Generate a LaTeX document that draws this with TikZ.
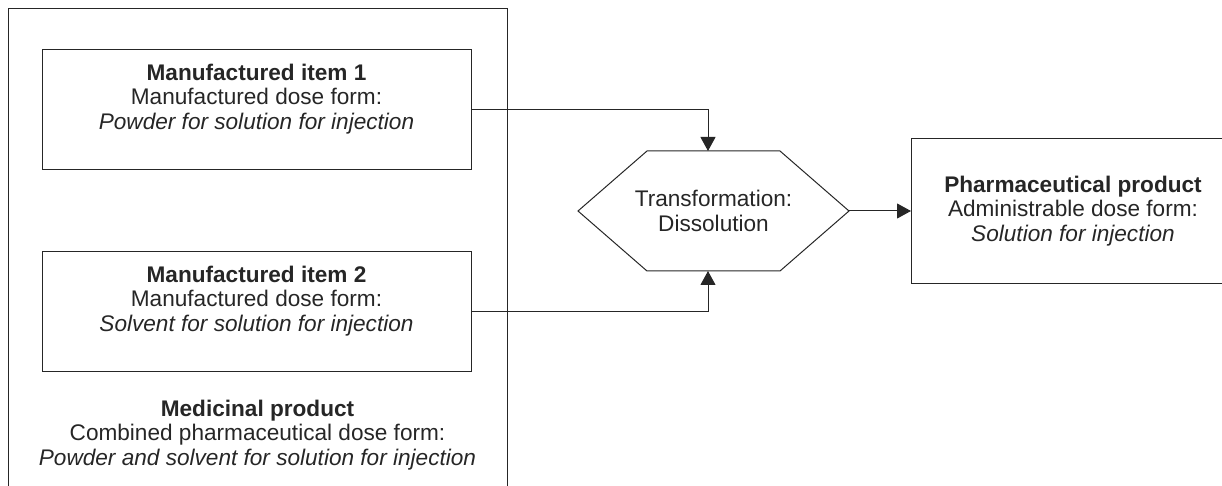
\documentclass[tikz,border=0pt]{standalone}
\usepackage{fontspec}
\setmainfont{Liberation Sans}
\usetikzlibrary{arrows.meta,positioning}

\begin{document}
\begin{tikzpicture}[
    node distance=41pt,
    color=black!85,
    line width=0.5pt,
    >={Triangle[length=7pt,width=7.5pt]},
    every node/.style={font=\fontsize{11.3}{12.2}\selectfont, align=center},
    frame node/.style={rectangle,draw,outer sep=0pt,minimum width=249.5pt,minimum height=250pt,anchor=north west},
    item node/.style={rectangle,draw,outer sep=0pt,minimum width=214.5pt,minimum height=60pt},
    trans node/.style={rectangle,outer sep=0pt,inner sep=0pt,minimum width=135.5pt,minimum height=60pt},
    product node/.style={rectangle,draw,outer sep=0pt,minimum width=162pt,minimum height=72.5pt}
]
\useasboundingbox (0,0) rectangle (611pt,-243pt);

% Medicinal product (frame runs off the bottom)
\node[frame node] (medicinal) at (4pt,-4.5pt) {};
\node (medlabel) at (128.75pt,-217.5pt) {\textbf{Medicinal product}\\Combined pharmaceutical dose form:\\\textit{Powder and solvent for solution for injection}};

% Manufactured items (text sits a little above the middle)
\node[item node] (item1) at (128.25pt,-55pt) {\textbf{Manufactured item 1}\\Manufactured dose form:\\\textit{Powder for solution for injection}\\[1pt]\mbox{}};
\node[item node, below=of item1] (item2) {\textbf{Manufactured item 2}\\Manufactured dose form:\\\textit{Solvent for solution for injection}\\[1pt]\mbox{}};

% Transformation
\node[trans node] (trans) at (356.75pt,-105.5pt) {Transformation:\\Dissolution};
\draw (trans.west) -- ([xshift=34.5pt]trans.north west) -- ([xshift=-34.5pt]trans.north east)
    -- (trans.east) -- ([xshift=-34.5pt]trans.south east) -- ([xshift=34.5pt]trans.south west) -- cycle;

% Pharmaceutical product
\node[product node, right=31pt of trans] (product) {\textbf{Pharmaceutical product}\\Administrable dose form:\\\textit{Solution for injection}};

% Arrows
\draw[->] (item1.east) -| ([xshift=-2.75pt]trans.north);
\draw[->] (item2.east) -| ([xshift=-2.75pt]trans.south);
\draw[->] (trans.east) -- (product.west);

\end{tikzpicture}
\end{document}
